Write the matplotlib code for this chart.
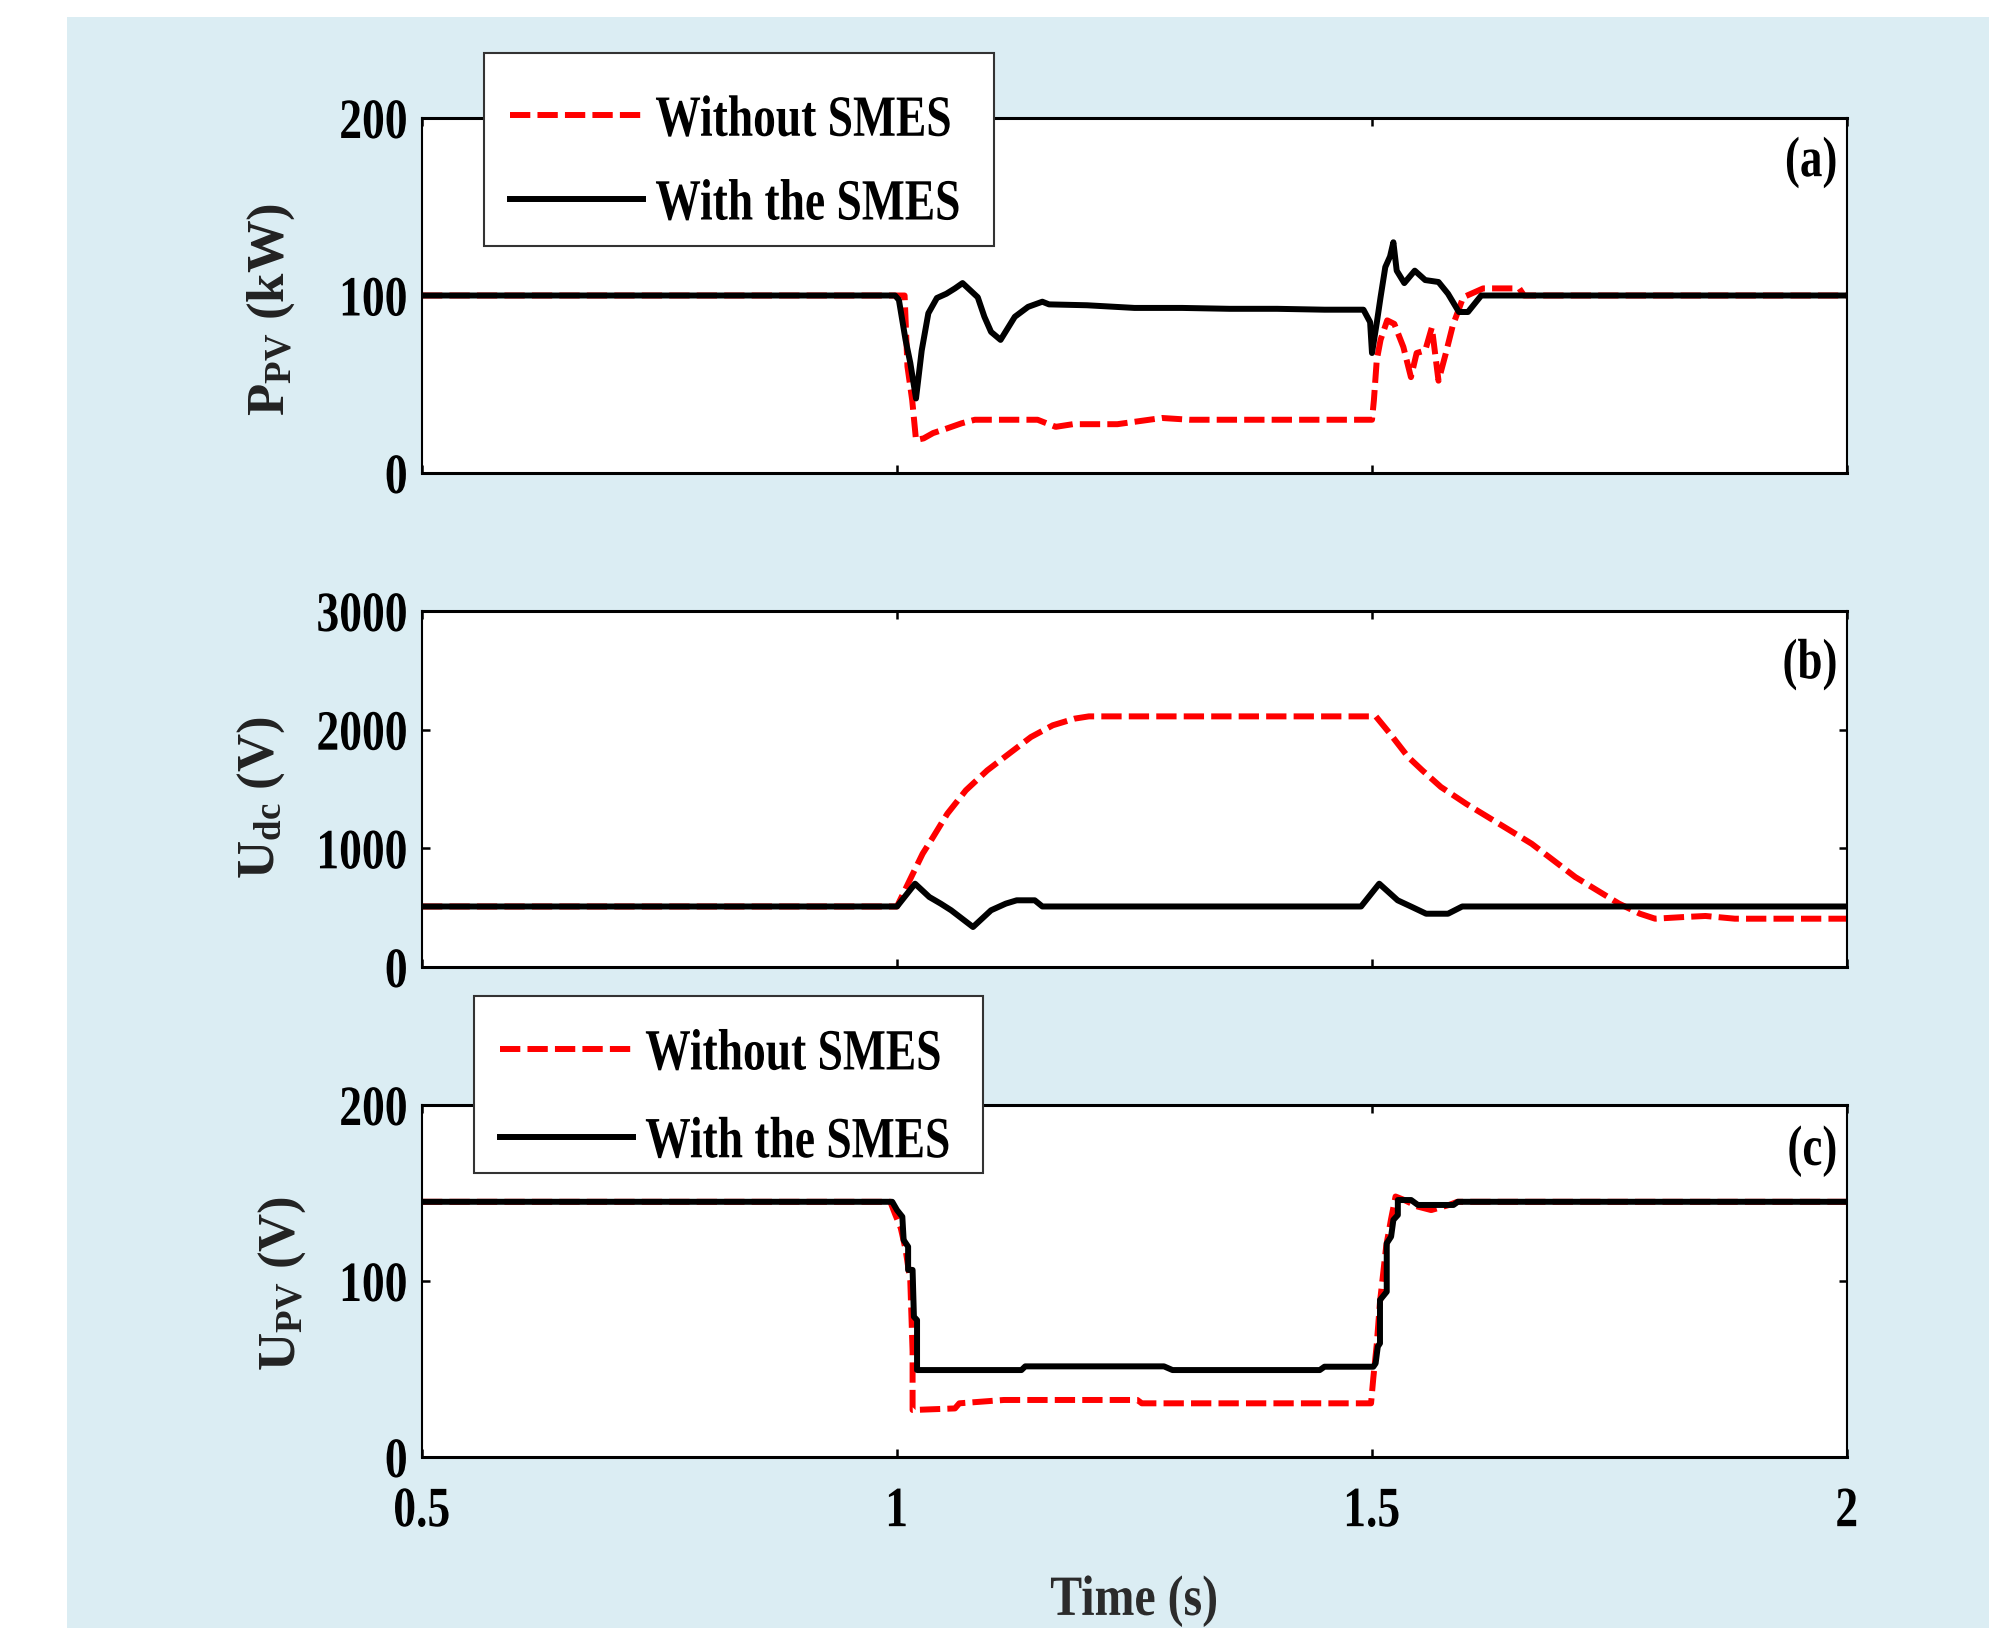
import numpy as np
import matplotlib
matplotlib.use("Agg")
import matplotlib.pyplot as plt
from matplotlib.patches import Rectangle
from matplotlib.transforms import Affine2D
from matplotlib import patheffects

# DATA
# (a) PV power, kW
t_a_wo = [0.5, 1.008, 1.011, 1.016, 1.020, 1.028, 1.038, 1.052, 1.068, 1.082, 1.148,
          1.167, 1.185, 1.232, 1.279, 1.308, 1.500, 1.502, 1.505, 1.509, 1.516, 1.5235,
          1.533, 1.541, 1.547, 1.556, 1.563, 1.570, 1.5775, 1.585, 1.596, 1.617, 1.655,
          1.66, 2.0]
p_wo = [100, 100, 60, 41, 18.6, 19.5, 22.5, 25, 28, 30, 30,
        26, 27.5, 27.5, 31, 30, 30, 41, 63.6, 75, 86, 84,
        71, 54, 67.6, 69, 82, 52, 67, 83, 99, 104, 104,
        100, 100]
t_a_with = [0.5, 0.998, 1.002, 1.009, 1.014, 1.020, 1.026, 1.033, 1.042, 1.052, 1.061,
            1.069, 1.085, 1.092, 1.099, 1.109, 1.124, 1.138, 1.153, 1.16, 1.2, 1.25,
            1.3, 1.35, 1.4, 1.45, 1.491, 1.498, 1.500, 1.505, 1.509, 1.514, 1.519,
            1.5225, 1.526, 1.534, 1.545, 1.556, 1.570, 1.580, 1.5915, 1.601, 1.615, 2.0]
p_with = [100, 100, 97.5, 75, 62, 42, 69, 90, 98.6, 101, 104,
          107, 99, 88, 79.5, 75, 88, 93.6, 96.5, 95, 94.5, 93,
          93, 92.5, 92.5, 92, 92, 85, 67.6, 84.5, 99, 116, 122,
          130, 114, 107, 114, 108.7, 107.6, 101, 90.7, 90.7, 100, 100]

# (b) DC-link voltage, V
t_b_wo = [0.5, 1.0, 1.015, 1.027, 1.038, 1.053, 1.0725, 1.095, 1.118, 1.141, 1.164,
          1.187, 1.202, 1.504, 1.519, 1.538, 1.553, 1.5725, 1.599, 1.622, 1.645,
          1.668, 1.691, 1.714, 1.737, 1.760, 1.782, 1.798, 1.828, 1.851, 1.882, 2.0]
u_dc_wo = [510, 510, 758, 955, 1095, 1292, 1489, 1657, 1798, 1938, 2037,
           2093, 2112, 2112, 1966, 1770, 1657, 1517, 1376, 1264, 1152,
           1039, 899, 758, 646, 534, 449, 407, 421, 430, 407, 407]
t_b_with = [0.5, 1.0, 1.019, 1.034, 1.046, 1.057, 1.080, 1.099, 1.1145, 1.126, 1.145,
            1.153, 1.4885, 1.5076, 1.527, 1.542, 1.557, 1.580, 1.595, 2.0]
u_dc_with = [510, 510, 702, 590, 534, 478, 337, 478, 534, 562, 562,
             510, 510, 702, 562, 506, 449, 449, 510, 510]

# (c) PV voltage, V
t_c_wo = [0.5, 0.993, 0.998, 1.004, 1.009, 1.014, 1.0164, 1.0164, 1.061, 1.0656, 1.1125,
          1.253, 1.2577, 1.499, 1.5014, 1.505, 1.5084, 1.515, 1.52, 1.5248, 1.534,
          1.548, 1.5623, 1.581, 1.59, 2.0]
u_pv_wo = [145, 145, 138, 130, 118, 100, 60, 26.7, 27.6, 30.5, 32.4,
           32.4, 30.5, 30.5, 45, 64, 88, 120, 135, 148, 146,
           142.3, 140.3, 143.2, 145, 145]
t_c_with = [0.5, 0.995, 1.0, 1.0056, 1.007, 1.0117, 1.0117, 1.0164, 1.0178, 1.0211, 1.0211,
            1.131, 1.135, 1.281, 1.29, 1.445, 1.45, 1.5014, 1.5038, 1.5061, 1.5084,
            1.5084, 1.5155, 1.5155, 1.5201, 1.5225, 1.5272, 1.5272, 1.5412, 1.5483,
            1.5857, 1.5904, 2.0]
u_pv_with = [145, 145, 140.3, 136.5, 123.3, 119.5, 106.3, 106.3, 79.7, 77.8, 49.4,
             49.4, 51.5, 51.5, 49.4, 49.4, 51.3, 51.3, 53.2, 62.7, 64.6,
             89.2, 93.9, 121.4, 125.2, 134.7, 137.5, 146, 146, 143.2,
             143.2, 145, 145]

x_ticks = [0.5, 1, 1.5, 2]
x_tick_labels = ["0.5", "1", "1.5", "2"]
yticks_a = [0, 100, 200]
yticks_b = [0, 1000, 2000, 3000]
yticks_c = [0, 100, 200]
labels = ["Without SMES", "With the SMES"]

plt.rcParams["font.family"] = "Liberation Serif"
plt.rcParams["font.weight"] = "bold"
plt.rcParams["axes.labelweight"] = "bold"
plt.rcParams["mathtext.fontset"] = "custom"
plt.rcParams["mathtext.rm"] = "Liberation Serif:bold"
plt.rcParams["mathtext.it"] = "Liberation Serif:bold"
plt.rcParams["mathtext.bf"] = "Liberation Serif:bold"


class Squeeze(patheffects.AbstractPathEffect):
    """squeeze text sideways, the original uses a narrow Times"""
    def __init__(self, sx=0.8, anchor="left"):
        super().__init__()
        self.sx = sx
        self.anchor = anchor

    def draw_path(self, renderer, gc, tpath, affine, rgbFace=None):
        v = tpath.vertices
        x0 = 0.0
        if len(v):
            if self.anchor == "right":
                x0 = v[:, 0].max()
            elif self.anchor == "center":
                x0 = 0.5 * (v[:, 0].min() + v[:, 0].max())
        sq = Affine2D().translate(-x0, 0).scale(self.sx, 1).translate(x0, 0)
        renderer.draw_path(gc, tpath, sq + affine, rgbFace)


LW = 4.3
RED_LS = (0, (3.4, 1.2))

fig = plt.figure(figsize=(19.89, 16.28), dpi=100)
fig.patches.append(Rectangle((67/1989, 0), 1, 1 - 17/1628, transform=fig.transFigure,
                             facecolor="#dbedf3", edgecolor="none", zorder=-10))

left, width = 422/1989, 1425/1989
ax_a = fig.add_axes([left, 1 - 473/1628, width, 355/1628])
ax_b = fig.add_axes([left, 1 - 967/1628, width, 356/1628])
ax_c = fig.add_axes([left, 1 - 1457/1628, width, 352/1628])

ax_a.plot(t_a_wo, p_wo, color="red", lw=LW, ls=RED_LS, label=labels[0])
ax_a.plot(t_a_with, p_with, color="black", lw=LW, label=labels[1])
ax_b.plot(t_b_wo, u_dc_wo, color="red", lw=LW, ls=RED_LS, label=labels[0])
ax_b.plot(t_b_with, u_dc_with, color="black", lw=LW, label=labels[1])
ax_c.plot(t_c_wo, u_pv_wo, color="red", lw=LW, ls=RED_LS, label=labels[0])
ax_c.plot(t_c_with, u_pv_with, color="black", lw=LW, label=labels[1])


def format_ax(ax, yticks, ylabel, lab_xy, panel, panel_y):
    ax.set_xlim(0.5, 2)
    ax.set_ylim(yticks[0], yticks[-1])
    ax.set_xticks(x_ticks)
    ax.set_yticks(yticks)
    ax.tick_params(direction="in", top=True, right=True, length=6, width=1.8,
                   labelsize=41, pad=10)
    ax.tick_params(axis="x", pad=21)
    for s in ax.spines.values():
        s.set_linewidth(1.5)
    ax.spines["top"].set_linewidth(2.2)
    ax.spines["bottom"].set_linewidth(2.2)
    ax.set_ylabel(ylabel, fontsize=38, color="#222222")
    ax.yaxis.set_label_coords(*lab_xy)
    ax.text(0.9937, panel_y, panel, transform=ax.transAxes, ha="right", va="center",
            fontsize=41, path_effects=[Squeeze(0.79, "right")])


def add_legend(ax, anchor, box, spacing):
    leg = ax.legend(loc="upper left", bbox_to_anchor=anchor, borderaxespad=0, borderpad=0,
                    frameon=False, fontsize=42, handlelength=2.28, handletextpad=0.21,
                    labelspacing=spacing)
    for txt in leg.get_texts():
        txt.set_path_effects([Squeeze(0.78)])
    leg.set_zorder(12)
    ax.add_patch(Rectangle(box[:2], box[2], box[3], transform=ax.transAxes,
                           facecolor="white", edgecolor="#333333", lw=1.5,
                           clip_on=False, zorder=11))


format_ax(ax_a, yticks_a, r"P$_\mathrm{PV}$ (kW)", (-0.088, 0.46), "(a)", 0.875)
format_ax(ax_b, yticks_b, r"U$_\mathrm{dc}$ (V)", (-0.095, 0.477), "(b)", 0.85)
format_ax(ax_c, yticks_c, r"U$_\mathrm{PV}$ (V)", (-0.08, 0.494), "(c)", 0.869)

ax_a.tick_params(axis="x", labelbottom=False)
ax_b.tick_params(axis="x", labelbottom=False)
ax_c.set_xticklabels(x_tick_labels)
ax_c.set_xlabel("Time (s)", fontsize=41, color="#2b2b2b",
                path_effects=[Squeeze(0.84, "center")])
ax_c.xaxis.set_label_coords(0.5, -0.335)

add_legend(ax_a, (0.0618, 1.065), (0.0435, 0.6394, 0.3579, 0.5437), 0.53)
add_legend(ax_c, (0.0547, 1.217), (0.0365, 0.8068, 0.3572, 0.5028), 0.6)

# squeeze the tick labels once they exist
fig.canvas.draw()
for ax in (ax_a, ax_b, ax_c):
    for lbl in ax.get_xticklabels():
        lbl.set_path_effects([Squeeze(0.8, "center")])
    for lbl in ax.get_yticklabels():
        lbl.set_path_effects([Squeeze(0.8, "right")])

fig.savefig("out.png", dpi=100)
